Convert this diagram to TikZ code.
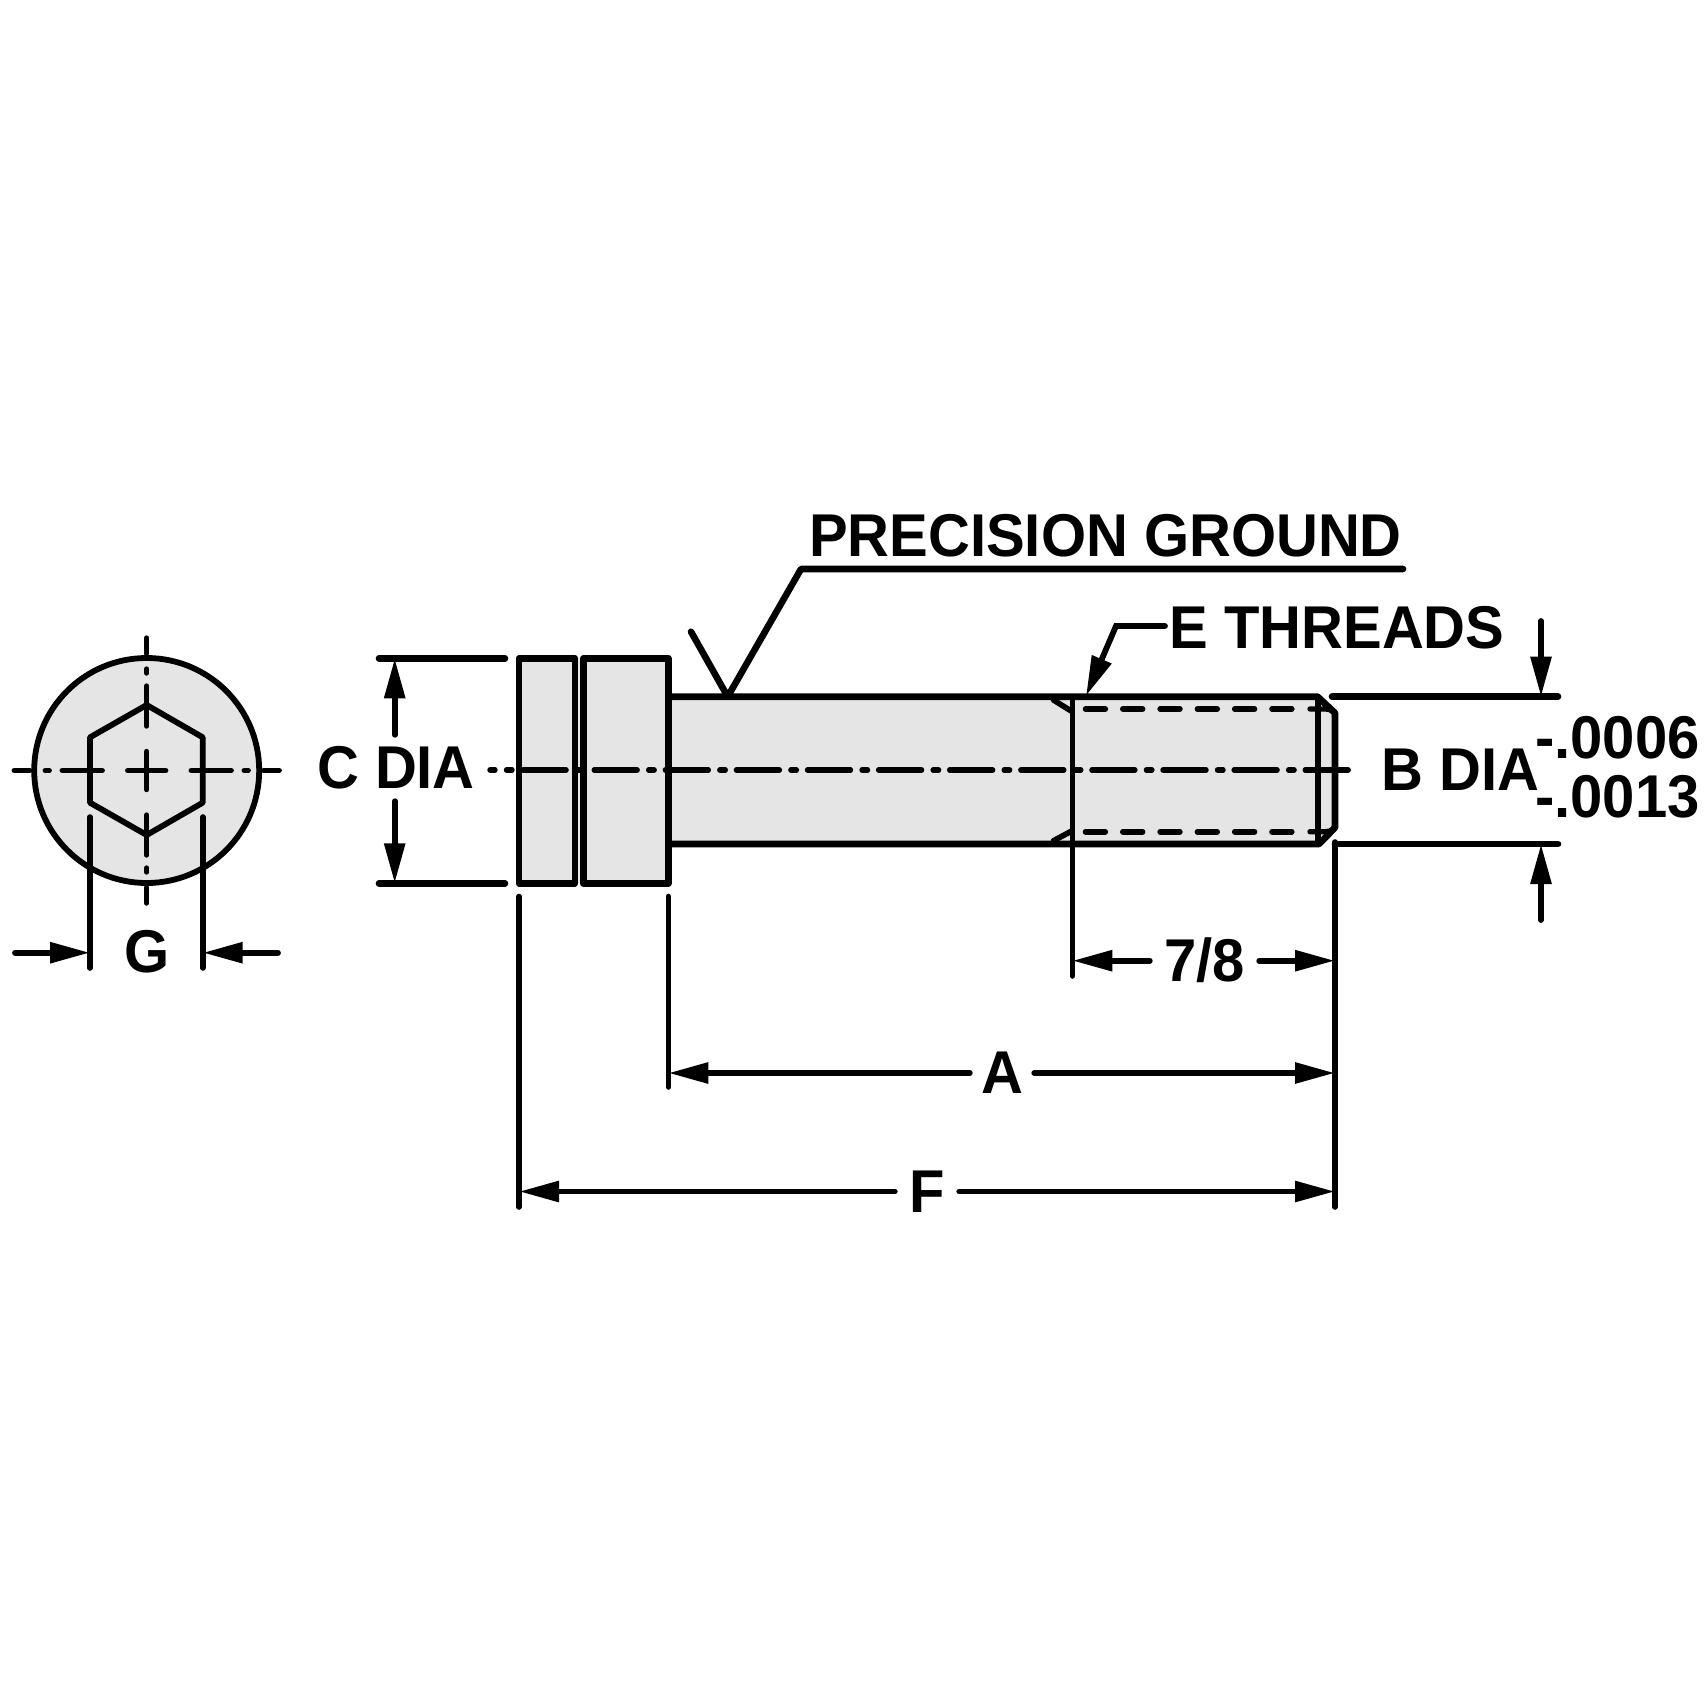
\documentclass[tikz,border=0pt]{standalone}
\usepackage{xcolor}
\usepackage{fontspec}
\usetikzlibrary{arrows.meta}
\newfontfamily\dimfont[FakeStretch=0.96]{Liberation Sans Bold}
\definecolor{partgray}{HTML}{E5E5E5}
\tikzset{
    part/.style={line width=6.6pt, line join=round, line cap=round},
    endview/.style={line width=5.8pt, line join=round, line cap=round},
    extline/.style={line width=5.6pt, line cap=round},
    axisline/.style={line width=5.4pt, line cap=round},
    threadline/.style={line width=5.6pt, line cap=round, dash pattern=on 19.8pt off 17.5pt},
    dimline/.style={line width=5.8pt, line cap=round, -{Triangle[length=40pt,width=20pt]}},
    dimlabel/.style={inner sep=0pt, font=\dimfont\fontsize{60.4}{62}\selectfont},
}

\begin{document}
\begin{tikzpicture}[x=1pt,y=-1pt]
    \useasboundingbox (0,0) rectangle (1708,1708);

    % End view
    \filldraw[endview, fill=partgray] (146.7,770.5) circle (112.5);
    \begin{scope}[shift={(146.7,770.5)}]
        \foreach \a/\b in {-132.5/-117,-101.5/-97.5,-84.5/-44.5,-19/19,44.5/84.5,97.5/101.5,117/132.5} {
            \draw[axisline] (\a,0) -- (\b,0);
            \draw[axisline] (0,\a) -- (0,\b);
        }
    \end{scope}
    \draw[endview] (146.7,705) -- (202.7,737.3) -- (202.7,802.7) -- (146.7,835) -- (90,802.7) -- (90,737.3) -- cycle;

    % Dimension G
    \coordinate (gL) at (90,952.7);
    \coordinate (gR) at (202.7,952.7);
    \draw[extline] (90,817) -- (90,968);
    \draw[extline] (202.7,817) -- (202.7,968);
    \node[dimlabel] (lblG) at (146.7,952) {G};
    \coordinate (gLfree) at (15,952.7);
    \coordinate (gRfree) at (278,952.7);
    \draw[dimline] (gLfree) -- (gL);
    \draw[dimline] (gRfree) -- (gR);

    % Bolt head and shank
    \fill[partgray] (519,658.3) rectangle (668.3,883.3);
    \fill[partgray] (668.3,696.7) -- (1317.7,696.7) -- (1335,713) -- (1335,827.7) -- (1319,844) -- (668.3,844) -- cycle;
    \draw[axisline, dash pattern=on 43pt off 11.5pt on 5.5pt off 11.1pt, dash phase=38pt] (490,770) -- (1349.2,770);
    \draw[part] (519,658.3) rectangle (575,883.3);
    \draw[part] (583.3,658.3) rectangle (668.3,883.3);
    \draw[part] (668.3,696.7) -- (1317.7,696.7) -- (1335,713) -- (1335,827.7) -- (1319,844) -- (668.3,844);
    \draw[extline] (1317.7,696.7) -- (1317.7,844);

    % Thread
    \draw[threadline] (1085.5,709) -- (1298,709);
    \draw[threadline] (1085.5,831.7) -- (1298,831.7);
    \draw[axisline] (1310,709) -- (1326,709) .. controls (1332,709) and (1335,712) .. (1335,717);
    \draw[axisline] (1310,831.7) -- (1326,831.7) .. controls (1332,831.7) and (1335,828) .. (1335,824);
    \draw[extline] (1053.5,700) -- (1072.3,711.7);
    \draw[extline] (1053.5,840.7) -- (1072.3,830.7);

    % Dimension C
    \node[dimlabel, minimum height=66pt] (lblC) at (396,768) {C DIA};
    \coordinate (cTop) at (394.7,658.3);
    \coordinate (cBot) at (394.7,883.3);
    \draw[part] (379,658.3) -- (505,658.3);
    \draw[part] (379,883.3) -- (505,883.3);
    \draw[dimline] (lblC.north -| cTop) -- (cTop);
    \draw[dimline] (lblC.south -| cBot) -- (cBot);

    % Leaders
    \node[dimlabel] (lblGround) at (1105.5,536) {PRECISION GROUND};
    \coordinate (groundEnd) at (1403,569);
    \coordinate (groundTip) at (727.7,696.7);
    \draw[part] (groundEnd) -- (801,569) -- (groundTip) -- (691,631.7);
    \node[dimlabel] (lblThreads) at (1337,628) {E THREADS};
    \coordinate (threadTip) at (1086,696);
    \draw[dimline] (1165,626) -- (1116,626) -- (threadTip);

    % Dimension B
    \node[dimlabel] (lblB) at (1460.5,770) {B DIA};
    \node[dimlabel] (lblUp) at (1617.5,737.5) {-.0006};
    \node[dimlabel] (lblLo) at (1617.5,797) {-.0013};
    \draw[part] (1332,696.7) -- (1558,696.7);
    \draw[part] (1335,844) -- (1558,844);
    \coordinate (bTop) at (1541,696.7);
    \coordinate (bBot) at (1541,844);
    \draw[dimline] (1541,621) -- (bTop);
    \draw[dimline] (1541,920) -- (bBot);

    % Lengths
    \draw[extline] (1072.3,696.7) -- (1072.3,976);
    \draw[extline] (1335,842) -- (1335,1207);
    \draw[extline] (668.3,896.5) -- (668.3,1087);
    \draw[extline] (519,896.5) -- (519,1207);
    \node[dimlabel, minimum width=109pt] (lblLen) at (1204.5,960.7) {7/8};
    \draw[dimline] (lblLen) -- (1072.3,960.7);
    \draw[dimline] (lblLen) -- (1335,960.7);
    \node[dimlabel, minimum width=64pt] (lblA) at (1002,1073) {A};
    \draw[dimline] (lblA) -- (668.3,1073);
    \draw[dimline] (lblA) -- (1335,1073);
    \node[dimlabel, minimum width=64pt] (lblF) at (927,1191.5) {F};
    \draw[dimline] (lblF) -- (519,1191.5);
    \draw[dimline] (lblF) -- (1335,1191.5);
\end{tikzpicture}
\end{document}
